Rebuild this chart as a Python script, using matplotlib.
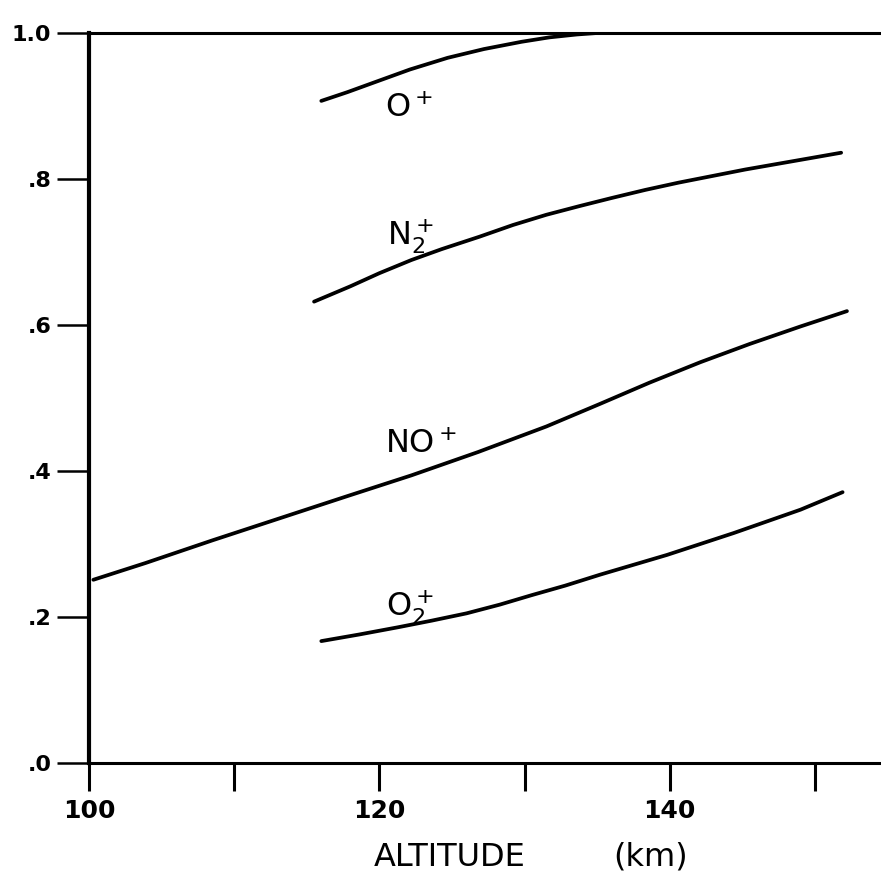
import numpy as np
import matplotlib.pyplot as plt

# relative ion composition vs altitude
alt_o = [116.0, 117.8, 119.6, 122.1, 124.7, 127.2, 129.8, 131.7, 133.6, 135.0]
frac_o = [0.907, 0.919, 0.932, 0.950, 0.966, 0.978, 0.988, 0.994, 0.998, 1.0]

alt_n2 = [115.5, 118.0, 120.0, 122.2, 124.3, 126.9, 129.2, 131.5, 133.8, 136.0, 138.3, 140.6, 142.9, 145.2, 147.5, 149.8, 151.8]
frac_n2 = [0.632, 0.653, 0.671, 0.689, 0.704, 0.721, 0.737, 0.751, 0.763, 0.774, 0.785, 0.795, 0.804, 0.813, 0.821, 0.829, 0.836]

alt_no = [100.3, 103.9, 108.5, 113.1, 117.7, 122.2, 126.8, 131.5, 135.2, 138.6, 142.1, 145.5, 149.0, 152.2]
frac_no = [0.251, 0.274, 0.305, 0.335, 0.365, 0.394, 0.426, 0.461, 0.492, 0.521, 0.549, 0.574, 0.598, 0.619]

alt_o2 = [116.0, 118.6, 121.3, 123.6, 126.0, 128.3, 130.5, 132.8, 135.2, 139.8, 144.4, 149.0, 151.9]
frac_o2 = [0.167, 0.176, 0.186, 0.195, 0.205, 0.217, 0.230, 0.243, 0.258, 0.285, 0.315, 0.347, 0.371]

xticks_major = [100, 120, 140]
xticks_minor = [110, 130, 150]
yticks = [0.0, 0.2, 0.4, 0.6, 0.8, 1.0]
ytick_labels = ['.0', '.2', '.4', '.6', '.8', '1.0']

plt.rcParams['mathtext.default'] = 'regular'

fig = plt.figure(figsize=(8.81, 8.81), dpi=100)
ax = fig.add_axes([89 / 881, 1 - 763 / 881, 1 - 89 / 881, 730 / 881])

lw = 2.7
for a, f in [(alt_o, frac_o), (alt_n2, frac_n2), (alt_no, frac_no), (alt_o2, frac_o2)]:
    ax.plot(a, f, color='black', lw=lw, solid_capstyle='round', solid_joinstyle='round')

ax.text(120.4, 0.885, r'O$^+$', fontsize=23, ha='left', va='baseline')
ax.text(120.5, 0.710, r'N$_2^+$', fontsize=23, ha='left', va='baseline')
ax.text(120.4, 0.425, r'NO$^+$', fontsize=23, ha='left', va='baseline')
ax.text(120.45, 0.201, r'O$_2^+$', fontsize=23, ha='left', va='baseline')

ax.set_xlim(100, 100 + (881 - 89) / 14.52)
ax.set_ylim(0, 1.0)

ax.spines['right'].set_visible(False)
ax.spines['left'].set_linewidth(3.0)
ax.spines['bottom'].set_linewidth(2.2)
ax.spines['top'].set_linewidth(2.2)

ax.set_xticks(xticks_major)
ax.set_xticklabels([str(v) for v in xticks_major], fontsize=18, fontweight='bold')
ax.set_xticks(xticks_minor, minor=True)
ax.tick_params(axis='x', which='both', direction='out', length=20, width=2.2, pad=6)

ax.set_yticks(yticks)
ax.set_yticklabels(ytick_labels, fontsize=16, fontweight='bold')
ax.tick_params(axis='y', direction='out', length=23, width=1.8, pad=4)

# axis title, hand-lettered with a wide gap before the unit
fig.text(450 / 881, 1 - 857 / 881, 'ALTITUDE', fontsize=23, ha='center', va='center')
fig.text(651 / 881, 1 - 857 / 881, '(km)', fontsize=23, ha='center', va='center')

fig.savefig('out.png', dpi=100)
